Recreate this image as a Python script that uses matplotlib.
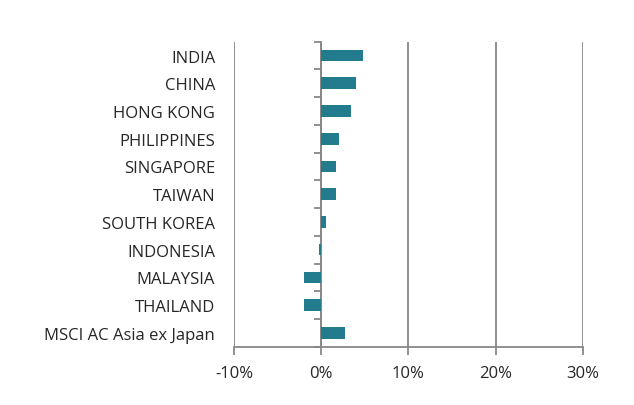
import matplotlib
matplotlib.use("Agg")
import matplotlib.pyplot as plt
from matplotlib.ticker import FuncFormatter, FixedLocator

countries = ["INDIA", "CHINA", "HONG KONG", "PHILIPPINES", "SINGAPORE", "TAIWAN",
             "SOUTH KOREA", "INDONESIA", "MALAYSIA", "THAILAND", "MSCI AC Asia ex Japan"]
returns = [4.77, 3.96, 3.47, 2.02, 1.75, 1.75, 0.61, -0.27, -1.92, -1.95, 2.71]
x_ticks = [-10, 0, 10, 20, 30]

BAR = "#237c8e"
GRID = "#888888"
TEXT = "#262626"

plt.rcParams["font.family"] = ["Open Sans", "DejaVu Sans"]

fig = plt.figure(figsize=(6.34, 4.06), dpi=100)
ax = fig.add_axes([234 / 634, 1 - 347.7 / 406, (582.7 - 234) / 634, (347.7 - 42.7) / 406])

n = len(countries)
ypos = list(range(n))
ax.barh(ypos, returns, height=0.42, color=BAR, zorder=3)

ax.set_xlim(-10, 30)
ax.set_ylim(n - 0.5, -0.5)
ax.set_xticks(x_ticks)
ax.xaxis.set_major_formatter(FuncFormatter(lambda v, p: f"{v:.0f}%"))
ax.tick_params(axis="x", length=6, width=1.3, color=GRID, labelsize=12, labelcolor=TEXT, pad=7)
ax.grid(axis="x", color=GRID, linewidth=1.3, zorder=1)

ax.set_yticks(ypos)
ax.set_yticklabels(countries)
ax.tick_params(axis="y", length=0, labelsize=12, labelcolor=TEXT, pad=13.5)

for s in ["top", "right", "left"]:
    ax.spines[s].set_visible(False)
ax.spines["bottom"].set_color(GRID)
ax.spines["bottom"].set_linewidth(1.3)

# category axis drawn at zero with ticks between categories
sec = ax.secondary_yaxis(0.25)
sec.yaxis.set_major_locator(FixedLocator([i - 0.5 for i in range(n + 1)]))
sec.set_yticklabels([])
sec.tick_params(axis="y", length=5, width=1.3, color=GRID)
sec.spines["left"].set_color(GRID)
sec.spines["left"].set_linewidth(1.3)

fig.savefig("out.png", dpi=100)
